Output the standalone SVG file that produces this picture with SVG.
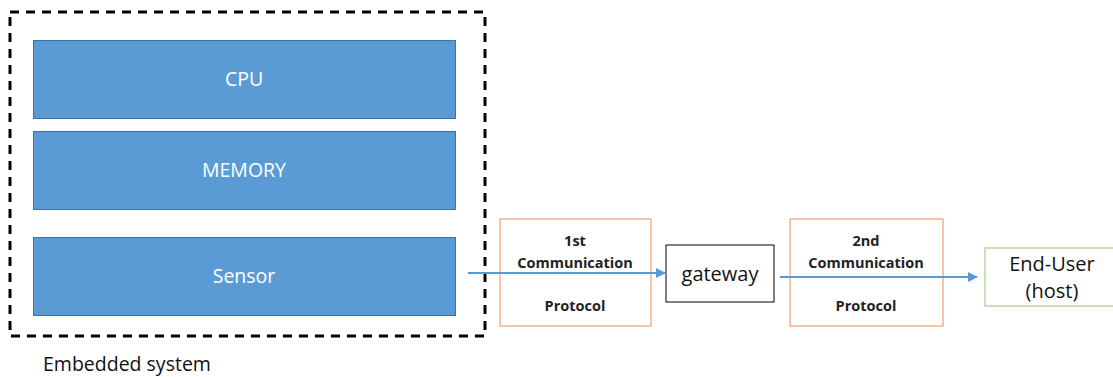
<svg xmlns="http://www.w3.org/2000/svg" width="1113" height="377" viewBox="0 0 1113 377">
<defs>
<style>
.blk{fill:#5B9BD5;stroke:#41719C;stroke-width:1}
.blkt{font-family:"Open Sans","Liberation Sans",sans-serif;font-size:19.5px;fill:#fff;text-anchor:middle}
.proto{fill:#fff;stroke:#F4A576;stroke-width:1.3}
.pt{font-family:"Open Sans","Liberation Sans",sans-serif;font-size:14.5px;font-weight:bold;fill:#222;text-anchor:middle}
.lbl{font-family:"Open Sans","Liberation Sans",sans-serif;font-size:20px;fill:#111;text-anchor:middle}
.conn{stroke:#5B9BD5;stroke-width:2;fill:none}
</style>
<marker id="ah" viewBox="0 0 10 10" refX="9" refY="5" markerWidth="5" markerHeight="5" orient="auto" markerUnits="strokeWidth">
<path d="M0,0 L10,5 L0,10 z" fill="#5B9BD5"/>
</marker>
</defs>
<rect width="1113" height="377" fill="#fff"/>
<g id="embedded">
<rect x="10" y="12" width="475" height="324" fill="none" stroke="#000" stroke-width="3" stroke-dasharray="9,7"/>
<text x="43" y="371" font-family="'Open Sans','Liberation Sans',sans-serif" font-size="19.5" fill="#111">Embedded system</text>
</g>
<g id="cpu">
<rect class="blk" x="33.5" y="40.5" width="422" height="78"/>
<text class="blkt" x="244" y="86">CPU</text>
</g>
<g id="memory">
<rect class="blk" x="33.5" y="131.5" width="422" height="78"/>
<text class="blkt" x="244" y="177">MEMORY</text>
</g>
<g id="sensor">
<rect class="blk" x="33.5" y="237.5" width="422" height="78"/>
<text class="blkt" x="244" y="283">Sensor</text>
</g>
<g id="proto1">
<rect class="proto" x="500" y="219" width="151" height="107"/>
<text class="pt" x="575" y="246">1st</text>
<text class="pt" x="575" y="268">Communication</text>
<text class="pt" x="575" y="311">Protocol</text>
</g>
<g id="gateway">
<rect x="666" y="245" width="108" height="57" fill="#fff" stroke="#000" stroke-width="1"/>
<text class="lbl" x="720" y="281">gateway</text>
</g>
<g id="proto2">
<rect class="proto" x="790" y="219" width="153" height="107"/>
<text class="pt" x="866" y="246">2nd</text>
<text class="pt" x="866" y="268">Communication</text>
<text class="pt" x="866" y="311">Protocol</text>
</g>
<g id="enduser">
<rect x="985" y="248" width="135" height="58" fill="#fff" stroke="#A9D18E" stroke-width="1.3"/>
<text class="lbl" x="1052" y="271">End-User</text>
<text class="lbl" x="1052" y="298">(host)</text>
</g>
<g id="connectors">
<line class="conn" x1="468" y1="273" x2="665" y2="273" marker-end="url(#ah)"/>
<line class="conn" x1="780" y1="277" x2="977" y2="277" marker-end="url(#ah)"/>
</g>
</svg>
